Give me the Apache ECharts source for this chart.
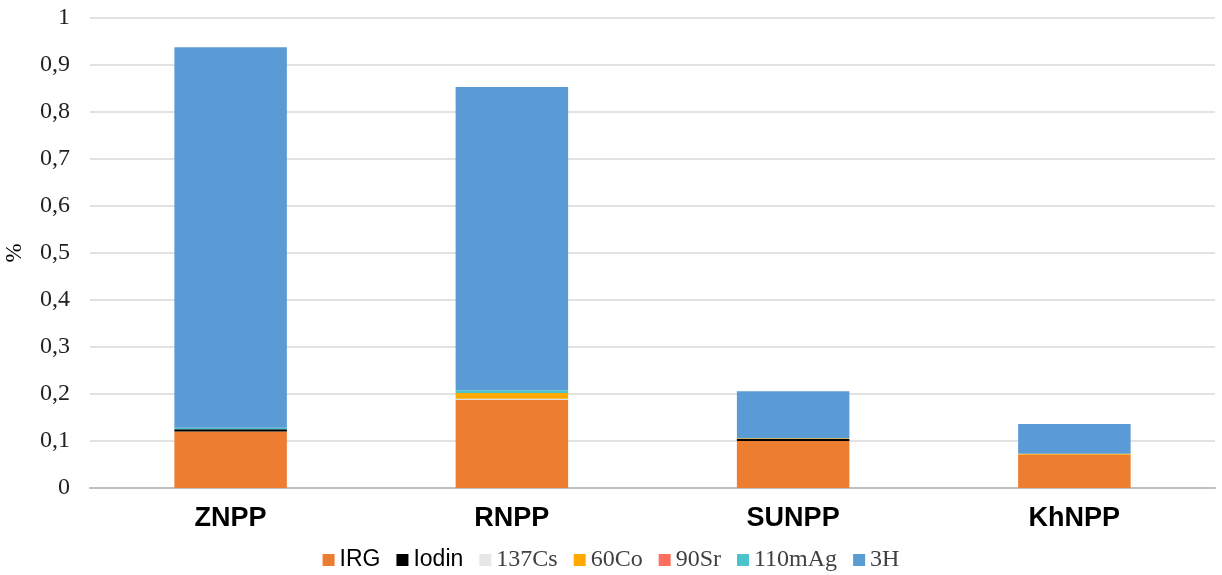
<!DOCTYPE html>
<html><head><meta charset="utf-8">
<script src="https://cdn.jsdelivr.net/npm/echarts@6/dist/echarts.min.js"></script>
<style>html,body{margin:0;padding:0;background:#fff}#c{width:1222px;height:575px}</style>
</head><body><div id="c"></div>
<script>
var categories = ['ZNPP','RNPP','SUNPP','KhNPP'];
var seriesNames = ['IRG','Iodin','137Cs','60Co','90Sr','110mAg','3H'];
var IRG    = [0.120, 0.187, 0.100, 0.071];
var Iodin  = [0.005, 0.001, 0.004, 0.000];
var Cs137  = [0.000, 0.002, 0.000, 0.000];
var Co60   = [0.000, 0.012, 0.002, 0.002];
var Sr90   = [0.000, 0.000, 0.000, 0.000];
var Ag110m = [0.003, 0.006, 0.000, 0.000];
var H3     = [0.810, 0.645, 0.100, 0.063];
var yTicks = [0,0.1,0.2,0.3,0.4,0.5,0.6,0.7,0.8,0.9,1];

var values = [IRG, Iodin, Cs137, Co60, Sr90, Ag110m, H3];
var colors = ['#ED7D31','#000000','#E6E6E6','#FFA800','#FF6F5E','#4BC3CC','#5B9BD5'];
var sansNames = {'IRG':1,'Iodin':1};

var chart = echarts.init(document.getElementById('c'));
chart.setOption({
  animation:false,
  grid:{left:90,right:7,top:18,bottom:87,containLabel:false,outerBoundsMode:'none'},
  legend:{
    bottom:-2, left:'center', itemWidth:12, itemHeight:12, itemGap:16,
    icon:'rect',
    data:seriesNames,
    formatter:function(n){ return sansNames[n] ? '{s|'+n+'}' : '{t|'+n+'}'; },
    textStyle:{ rich:{
      s:{fontFamily:'Liberation Sans, Arial, sans-serif', fontSize:23, color:'#000'},
      t:{fontFamily:'Liberation Serif, Times New Roman, serif', fontSize:24, color:'#404040'}
    }}
  },
  xAxis:{
    type:'category', data:categories,
    axisTick:{show:false},
    axisLine:{lineStyle:{color:'#BFBFBF',width:2}},
    axisLabel:{fontFamily:'Liberation Sans, Arial, sans-serif', fontWeight:'bold', fontSize:27, color:'#000', margin:17}
  },
  yAxis:{
    type:'value', min:0, max:1, interval:0.1,
    name:'%', nameLocation:'middle', nameGap:64, nameRotate:90,
    nameTextStyle:{fontFamily:'Liberation Serif, serif', fontSize:23, color:'#000'},
    axisLine:{show:false}, axisTick:{show:false},
    splitLine:{lineStyle:{color:'#D9D9D9',width:1.5}},
    axisLabel:{fontFamily:'Liberation Serif, Times New Roman, serif', fontSize:24, color:'#222', margin:20,
      formatter:function(v){ var s = String(Math.round(v*10)/10); return s.replace('.',','); }}
  },
  series: seriesNames.map(function(n,i){
    return {name:n, type:'bar', stack:'a', data:values[i], barWidth:'40%',
      itemStyle:{color:colors[i]}};
  })
});
</script></body></html>
